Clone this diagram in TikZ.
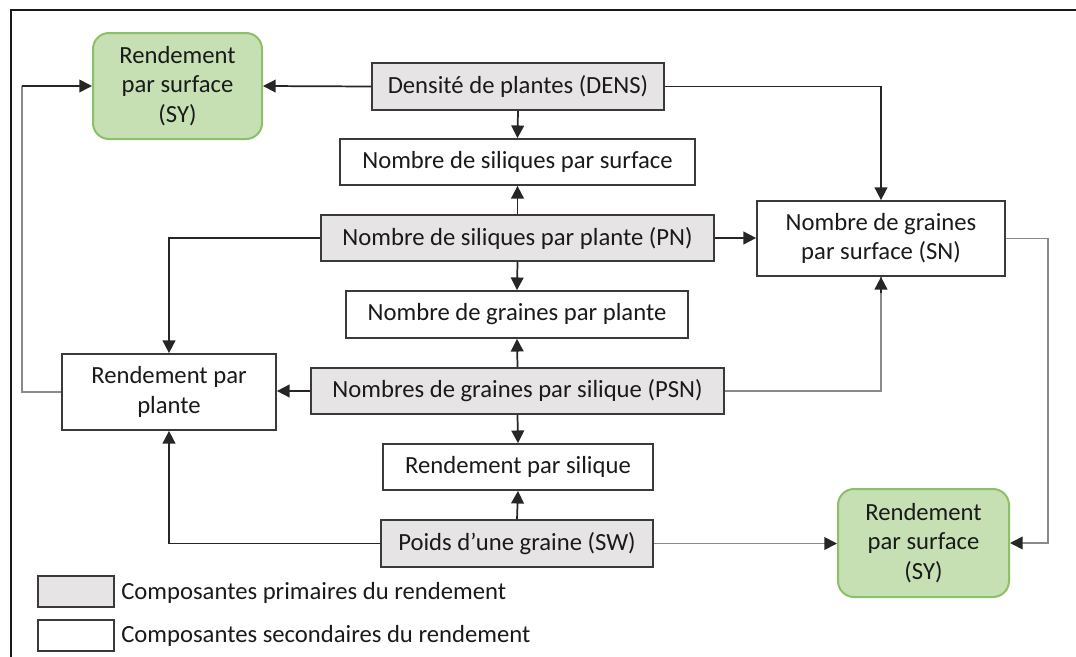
\documentclass[tikz,border=0pt]{standalone}
\usepackage{fontspec}
\setmainfont{Carlito}
\usetikzlibrary{arrows.meta}
\definecolor{boxline}{HTML}{3A3A3A}
\definecolor{primfill}{HTML}{E6E4E4}
\definecolor{syfill}{HTML}{C6E0B4}
\definecolor{syline}{HTML}{8CC068}
\definecolor{txt}{HTML}{1A1A1A}
\definecolor{lightline}{HTML}{8A8A8A}
\begin{document}
\begin{tikzpicture}[x=0.75pt,y=-0.75pt,
  every node/.style={font=\fontsize{18.5}{22}\selectfont, text=txt, align=center, inner sep=0pt},
  sec/.style={draw=boxline, line width=1.3pt, fill=white},
  prim/.style={draw=boxline, line width=1.3pt, fill=primfill},
  sybox/.style={draw=syline, line width=1.5pt, fill=syfill, rounded corners=12pt},
  arr/.style={draw=black!85, line width=1.3pt, -{Triangle[length=9.5pt,width=9.5pt]}},
  garr/.style={draw=lightline, line width=1.3pt, -{Triangle[length=9.5pt,width=9.5pt,color=black!85]}},
  gline/.style={draw=lightline, line width=1.3pt},
  bline/.style={draw=black!85, line width=1.3pt}]
\useasboundingbox (0,0) rectangle (1076,657);
% frame
\draw[black!90, line width=2.2pt] (11,657) -- (11,10) -- (1076,10);

% nodes
\node[sybox, minimum width=169*0.75pt, minimum height=106*0.75pt] (SYt) at (177.5,86) {Rendement\\par surface\\(SY)};
\node[prim, minimum width=292*0.75pt, minimum height=47*0.75pt] (DENS) at (518,86.5) {Densité de plantes (DENS)};
\node[sec, minimum width=355*0.75pt, minimum height=46*0.75pt] (SPS) at (517.5,162) {Nombre de siliques par surface};
\node[sec, minimum width=248*0.75pt, minimum height=75*0.75pt] (SN) at (881,238.5) {Nombre de graines\\par surface (SN)};
\node[prim, minimum width=393*0.75pt, minimum height=46*0.75pt] (PN) at (517.5,238) {Nombre de siliques par plante (PN)};
\node[sec, minimum width=342*0.75pt, minimum height=47*0.75pt] (GPP) at (517,314.5) {Nombre de graines par plante};
\node[sec, minimum width=214*0.75pt, minimum height=76*0.75pt] (RPP) at (169,392) {Rendement par\\plante};
\node[prim, minimum width=413*0.75pt, minimum height=46*0.75pt] (PSN) at (517.5,391) {Nombres de graines par silique (PSN)};
\node[sec, minimum width=270*0.75pt, minimum height=46*0.75pt] (RPS) at (518,467) {Rendement par silique};
\node[prim, minimum width=272*0.75pt, minimum height=47*0.75pt] (SW) at (517,543.5) {Poids d’une graine (SW)};
\node[sybox, minimum width=171*0.75pt, minimum height=108*0.75pt] (SYb) at (923.5,543) {Rendement\\par surface\\(SY)};

% legend
\node[prim, minimum width=76*0.75pt, minimum height=31*0.75pt] (L1) at (76,591.5) {};
\node[sec, minimum width=76*0.75pt, minimum height=31*0.75pt] (L2) at (76,635.5) {};
\node[anchor=west] (L1t) at (121,593) {Composantes primaires du rendement};
\node[anchor=west] (L2t) at (121,636) {Composantes secondaires du rendement};

% helper coordinates
\coordinate (cl) at (22,0);
\coordinate (cr) at (1048,0);

% connectors
\draw[arr] (DENS.west) -- (SYt.east);
\draw[arr] (DENS.south) -- (SPS.north);
\draw[arr] (DENS.east) -| (SN.north);
\draw[arr] (PN.north) -- (SPS.south);
\draw[arr] (PN.south) -- (GPP.north);
\draw[arr] (PN.east) -- (SN.west |- PN.east);
\draw[arr] (PN.west) -| (RPP.north);
\draw[arr] (PSN.north) -- (GPP.south);
\draw[arr] (PSN.west) -- (RPP.east |- PSN.west);
\draw[gline] (PSN.east) -| (SN.south);
\draw[arr] (SN.south) ++(0,16) -- (SN.south);
\draw[arr] (PSN.south) -- (RPS.north);
\draw[arr] (SW.north) -- (RPS.south);
\draw[arr] (SW.west) -| (RPP.south);
\draw[garr] (SW.east) -- (SYb.west |- SW.east);
\draw[garr] (SN.east) -- (SN.east -| cr) |- (SYb.east);
\draw[gline] (RPP.west) -- (RPP.west -| cl) -- (SYt.west -| cl);
\draw[arr] (SYt.west -| cl) -- (SYt.west);
\end{tikzpicture}
\end{document}
